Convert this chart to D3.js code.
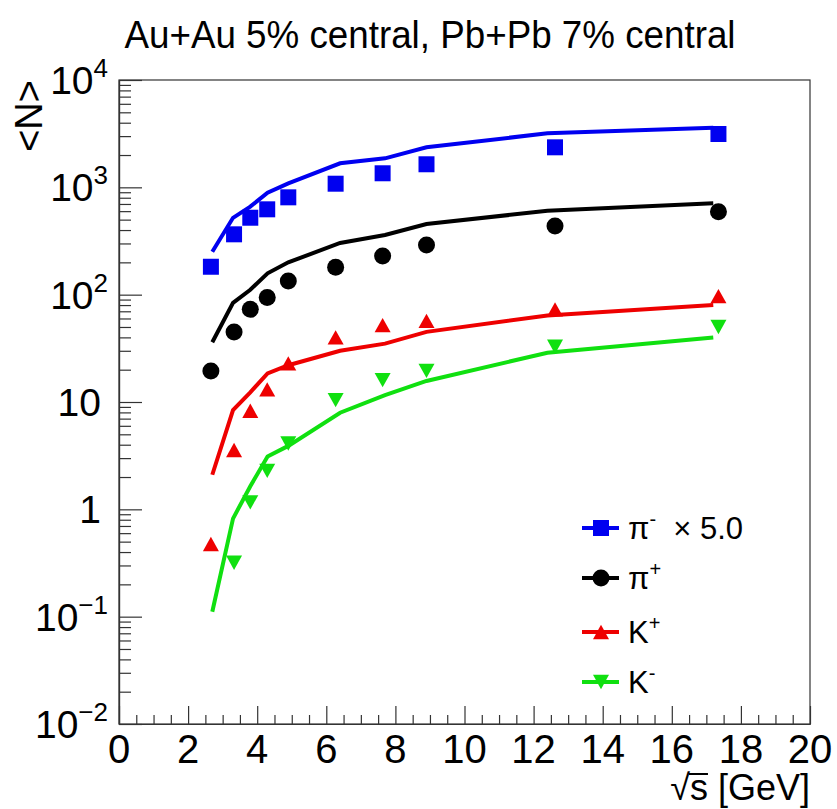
<!DOCTYPE html>
<html>
<head>
<meta charset="utf-8">
<script src="https://d3js.org/d3.v7.min.js"></script>
<style>
  body { margin: 0; background: #fff; }
  svg text { font-family: "Liberation Sans", Arial, Helvetica, sans-serif; fill: #000; }
</style>
</head>
<body>
<script>
// measured points (sqrt(s) in GeV)
const sqrtS      = [2.66, 3.33, 3.8, 4.29, 4.9, 6.27, 7.63, 8.9, 12.62, 17.35];
const piMinusX5  = [182, 365, 521, 624, 807, 1081, 1352, 1640, 2360, 3140];
const piPlus     = [19.4, 45, 73, 94, 134, 180, 229, 290, 437, 593];
const kPlus      = [0.475, 3.57, 8.3, 13.1, 22.9, 40, 52, 57, 73, 97];
const kMinus     = [null, 0.318, 1.16, 2.28, 4.1, 10.4, 16, 19.5, 32.7, 50];

// model curves
const modelSqrtS   = [2.7, 3.3, 3.8, 4.3, 4.9, 6.4, 7.7, 8.9, 12.4, 17.2];
const modelPiMinus = [251, 520, 661, 891, 1090, 1675, 1862, 2360, 3186, 3597];
const modelPiPlus  = [36, 84, 111, 158, 200, 303, 360, 455, 605, 710];
const modelKPlus   = [2.1, 8.4, 12.3, 18.5, 22, 30, 35, 45, 64, 80];
const modelKMinus  = [0.111, 0.82, 1.64, 3.1, 3.9, 7.95, 11.6, 15.7, 28.8, 39.8];

const xTicks = [0, 2, 4, 6, 8, 10, 12, 14, 16, 18, 20];
const yExponents = [-2, -1, 0, 1, 2, 3, 4];

const width = 837, height = 809;
const frameL = 119, frameR = 810, frameT = 80, frameB = 724;

const svg = d3.select('body').append('svg')
    .attr('width', width)
    .attr('height', height);

const x = d3.scaleLinear().domain([0, 20]).range([frameL, frameR]);
const y = d3.scaleLog().domain([0.01, 1e4]).range([frameB, frameT]);

// frame
svg.append('rect')
    .attr('x', frameL).attr('y', frameT)
    .attr('width', frameR - frameL).attr('height', frameB - frameT)
    .attr('fill', 'none').attr('stroke', '#333').attr('stroke-width', 1.2);

// x ticks
const xMinor = d3.range(0, 20.01, 0.5).filter(v => v % 2 !== 0);
svg.append('g').attr('transform', `translate(0,${frameB})`)
    .call(d3.axisBottom(x).tickValues(xTicks).tickSize(-18).tickSizeOuter(0).tickFormat(''));
svg.append('g').attr('transform', `translate(0,${frameB})`)
    .call(d3.axisBottom(x).tickValues(xMinor).tickSize(-9).tickSizeOuter(0).tickFormat(''));

// y ticks
const yMajor = yExponents.map(e => Math.pow(10, e));
const yMinor = [];
yExponents.slice(0, -1).forEach(e => {
    for (let k = 2; k <= 9; k++) yMinor.push(k * Math.pow(10, e));
});
svg.append('g').attr('transform', `translate(${frameL},0)`)
    .call(d3.axisLeft(y).tickValues(yMajor).tickSize(-23).tickSizeOuter(0).tickFormat(''));
svg.append('g').attr('transform', `translate(${frameL},0)`)
    .call(d3.axisLeft(y).tickValues(yMinor).tickSize(-12).tickSizeOuter(0).tickFormat(''));

svg.selectAll('.domain, .tick line').attr('stroke', '#333').attr('stroke-width', 1.2);

// x tick labels
svg.append('g').selectAll('text')
    .data(xTicks).join('text')
    .attr('x', d => x(d))
    .attr('y', 763)
    .attr('text-anchor', 'middle')
    .style('font-size', '40px')
    .text(d => d);

// y tick labels (plain "1" and "10" sit a bit further left)
const yLab = svg.append('g').selectAll('text')
    .data(yExponents).join('text')
    .attr('x', d => (d === 0 || d === 1) ? 101 : 108)
    .attr('y', d => y(Math.pow(10, d)) + 14)
    .attr('text-anchor', 'end')
    .style('font-size', '39px');
yLab.each(function(e) {
    const t = d3.select(this);
    if (e === 0) { t.text('1'); return; }
    if (e === 1) { t.text('10'); return; }
    t.append('tspan').text('10');
    t.append('tspan').attr('dy', -17).style('font-size', '26px')
        .text(e < 0 ? '\u2212' + (-e) : e);
});

// axis titles
svg.append('text')
    .attr('transform', `translate(42,${frameT}) rotate(-90)`)
    .attr('text-anchor', 'end')
    .style('font-size', '38px')
    .text('<N>');

const xt = svg.append('text')
    .attr('x', frameR)
    .attr('y', 800)
    .attr('text-anchor', 'end')
    .style('font-size', '36px')
    .text('\u221As [GeV]');
// overline of the radical over "s"
const xtNode = xt.node();
const xtStart = xtNode.getStartPositionOfChar(0).x;
const rootW = xtNode.getSubStringLength(0, 1);
const sW = xtNode.getSubStringLength(1, 1);
svg.append('line')
    .attr('x1', xtStart + rootW - 1).attr('x2', xtStart + rootW + sW)
    .attr('y1', 774).attr('y2', 774)
    .attr('stroke', '#000').attr('stroke-width', 2);

// title
svg.append('text')
    .attr('x', 430)
    .attr('y', 48)
    .attr('text-anchor', 'middle')
    .attr('textLength', 611)
    .attr('lengthAdjust', 'spacingAndGlyphs')
    .style('font-size', '38px')
    .text('Au+Au 5% central, Pb+Pb 7% central');

// markers
const markerPath = {
    square: s => `M${-s/2},${-s/2}h${s}v${s}h${-s}Z`,
    circle: s => `M${-s/2},0a${s/2},${s/2} 0 1,0 ${s},0a${s/2},${s/2} 0 1,0 ${-s},0Z`,
    up: s => `M0,${-s*0.45}L${s/2},${s*0.45}L${-s/2},${s*0.45}Z`,
    down: s => `M0,${s*0.45}L${s/2},${-s*0.45}L${-s/2},${-s*0.45}Z`
};

const series = [
    { name: 'pim', color: '#0000f0', marker: 'square', size: 16, data: piMinusX5, model: modelPiMinus },
    { name: 'pip', color: '#000000', marker: 'circle', size: 17, data: piPlus, model: modelPiPlus },
    { name: 'kp', color: '#ee0000', marker: 'up', size: 16, data: kPlus, model: modelKPlus },
    { name: 'km', color: '#10e010', marker: 'down', size: 16, data: kMinus, model: modelKMinus }
];

const line = d3.line().x(d => x(d[0])).y(d => y(d[1]));

svg.append('g').selectAll('path')
    .data(series).join('path')
    .attr('d', s => line(modelSqrtS.map((v, i) => [v, s.model[i]])))
    .attr('fill', 'none')
    .attr('stroke', s => s.color)
    .attr('stroke-width', 4);

series.forEach(s => {
    svg.append('g').selectAll('path')
        .data(sqrtS.map((v, i) => [v, s.data[i]]).filter(d => d[1] != null))
        .join('path')
        .attr('transform', d => `translate(${x(d[0])},${y(d[1])})`)
        .attr('d', markerPath[s.marker](s.size))
        .attr('fill', s.color);
});

// legend
const legendRows = [
    { key: 'pim', y: 528, label: ['\u03C0', '-', '  \u00D7 5.0'] },
    { key: 'pip', y: 578, label: ['\u03C0', '+', ''] },
    { key: 'kp', y: 632, label: ['K', '+', ''] },
    { key: 'km', y: 682, label: ['K', '-', ''] }
];
const lg = svg.append('g').selectAll('g')
    .data(legendRows).join('g')
    .attr('transform', d => `translate(0,${d.y})`);
lg.append('line')
    .attr('x1', 582).attr('x2', 619)
    .attr('stroke', d => series.find(s => s.name === d.key).color)
    .attr('stroke-width', 4);
lg.append('path')
    .attr('transform', 'translate(601,0)')
    .attr('d', d => { const s = series.find(s => s.name === d.key); return markerPath[s.marker](s.size); })
    .attr('fill', d => series.find(s => s.name === d.key).color);
const lt = lg.append('text')
    .attr('x', 628).attr('y', 11)
    .style('font-size', '31px')
    .style('white-space', 'pre');
lt.append('tspan').text(d => d.label[0]);
lt.append('tspan').attr('dy', -13).style('font-size', '20px').text(d => d.label[1]);
lt.append('tspan').attr('dy', 13).text(d => d.label[2]);
</script>
</body>
</html>
